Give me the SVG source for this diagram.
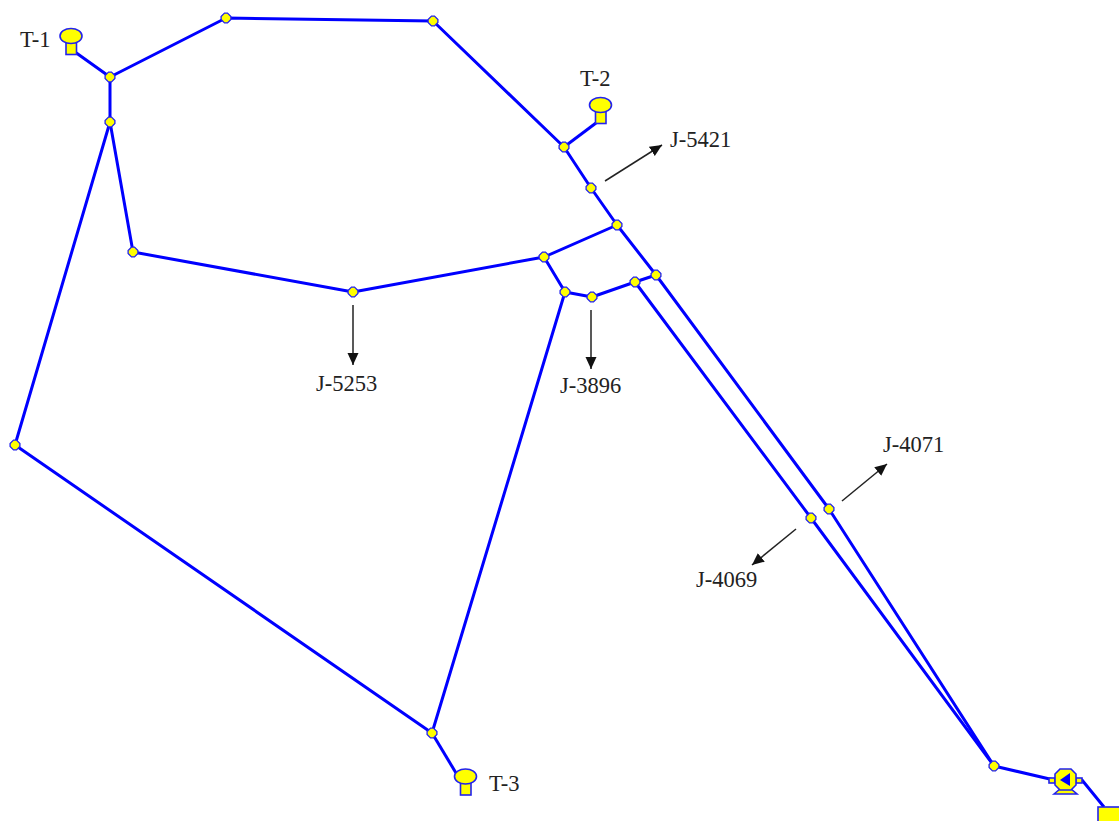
<svg xmlns="http://www.w3.org/2000/svg" width="1119" height="821" viewBox="0 0 1119 821">
<defs>
<style>
.p{fill:none;stroke:#0000ff;stroke-width:3;stroke-linejoin:round}
.j{fill:#ffff00;stroke:#2222ee;stroke-width:1.3}
.s{fill:#ffff00;stroke:#2222ee;stroke-width:1.6}
.a{fill:none;stroke:#222;stroke-width:1.5;marker-end:url(#h)}
.t{font-family:"Liberation Serif",serif;font-size:22.5px;fill:#222}
</style>
<marker id="h" markerUnits="userSpaceOnUse" markerWidth="14" markerHeight="12" refX="12" refY="5.5" orient="auto"><path d="M0 0L12 5.5L0 11Z" fill="#111"/></marker>
<symbol id="jn" overflow="visible"><path class="j" d="M-1.5 -4.9L1.500 -4.9L4.9 -1.500L4.9 1.500L1.500 4.9L-1.500 4.9L-4.9 1.500L-4.9 -1.500Z"/></symbol>
<symbol id="tank" overflow="visible"><rect class="s" x="-5" y="6" width="10.500" height="12.500"/><ellipse class="s" cx="0" cy="0" rx="11" ry="7.500"/></symbol>
</defs>
<rect width="1119" height="821" fill="#fff"/>
<g id="connectors">
<path class="p" d="M75 52L110 77L226 18L433 21L564 147L591 188L617 225L656 275L829 509L994 766L1054 780"/>
<path class="p" d="M564 147L596 123"/>
<path class="p" d="M110 77L110 122L133 252L353 292L544 257L617 225"/>
<path class="p" d="M110 122L15 445L432 733L565 292L544 257"/>
<path class="p" d="M565 292L592 297L635 282L656 275"/>
<path class="p" d="M635 282L811 518L994 766"/>
<path class="p" d="M432 733L456 773"/>
<path class="p" d="M1076 780L1082 780L1104 807"/>
</g>
<g id="annotations">
<path class="a" d="M605 181L662 145"/>
<path class="a" d="M353 305L353 365"/>
<path class="a" d="M591 310L591 369"/>
<path class="a" d="M842 501L887 464"/>
<path class="a" d="M796 529L752 565"/>
</g>
<g id="T-1"><use href="#tank" x="71" y="36"/><text class="t" x="20" y="47">T-1</text></g>
<g id="T-2"><use href="#tank" x="600.500" y="105"/><text class="t" x="580" y="86">T-2</text></g>
<g id="T-3"><use href="#tank" x="465.500" y="776.500"/><text class="t" x="489" y="791">T-3</text></g>
<g id="J-5421"><use href="#jn" x="591" y="188"/><text class="t" x="670" y="147">J-5421</text></g>
<g id="J-5253"><use href="#jn" x="353" y="292"/><text class="t" x="316" y="391">J-5253</text></g>
<g id="J-3896"><use href="#jn" x="592" y="297"/><text class="t" x="560" y="393">J-3896</text></g>
<g id="J-4071"><use href="#jn" x="829" y="509"/><text class="t" x="883" y="452">J-4071</text></g>
<g id="J-4069"><use href="#jn" x="811" y="518"/><text class="t" x="696" y="587">J-4069</text></g>
<g id="junctions">
<use href="#jn" x="110" y="77"/><use href="#jn" x="226" y="18"/><use href="#jn" x="433" y="21"/><use href="#jn" x="564" y="147"/><use href="#jn" x="617" y="225"/><use href="#jn" x="656" y="275"/><use href="#jn" x="635" y="282"/><use href="#jn" x="565" y="292"/><use href="#jn" x="544" y="257"/><use href="#jn" x="133" y="252"/><use href="#jn" x="110" y="122"/><use href="#jn" x="15" y="445"/><use href="#jn" x="432" y="733"/><use href="#jn" x="994" y="766"/>
</g>
<g id="pump">
<path class="s" d="M1054 794L1060 789H1071L1077 794Z"/>
<rect class="s" x="1049" y="778" width="6" height="5"/><rect class="s" x="1076" y="778" width="6" height="5"/>
<path class="s" d="M1060 769H1071L1076 774V785L1071 790H1060L1055 785V774Z"/>
<path d="M1070 773V786L1060 780Z" fill="#0000ff"/>
</g>
<g id="reservoir"><rect class="s" x="1098" y="807" width="24" height="18"/></g>
</svg>
